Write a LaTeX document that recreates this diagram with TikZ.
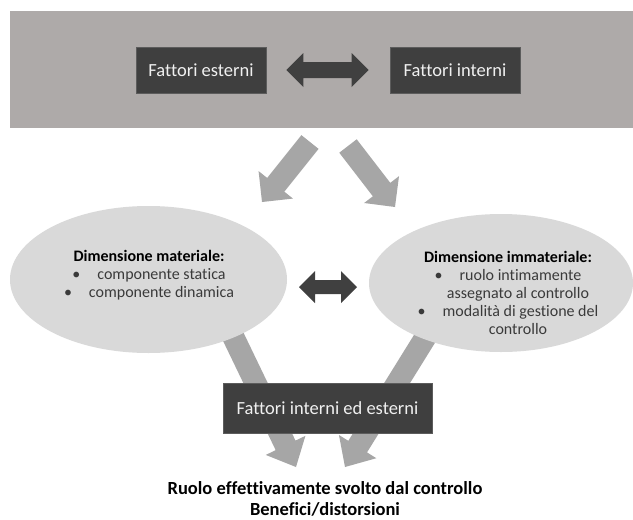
\documentclass[tikz,border=0pt]{standalone}
\usepackage{fontspec}
\setmainfont{Carlito}[Ligatures={NoCommon}]
\usetikzlibrary{calc,shapes.geometric}
\definecolor{bandgray}{HTML}{AEAAA9}
\definecolor{darkbox}{HTML}{3F3F3F}
\definecolor{arrowgray}{HTML}{A6A6A6}
\definecolor{ellgray}{HTML}{D9D9D9}
\definecolor{darkarrow}{HTML}{404040}
\definecolor{bodytext}{HTML}{3A3A3A}
\definecolor{boxtext}{HTML}{F0F0F0}

\newcommand{\blockarrow}[6]{%
  \coordinate (hb) at ($(#3)!#6!(#2)$);
  \fill[#1] ($(#2)!#4!90:(#3)$) -- ($(hb)!#4!90:(#3)$) -- ($(hb)!#5!90:(#3)$) -- (#3)
    -- ($(hb)!#5!-90:(#3)$) -- ($(hb)!#4!-90:(#3)$) -- ($(#2)!#4!-90:(#3)$) -- cycle;}

\newcommand{\dblarrow}[6]{%
  \coordinate (hl) at ($(#2)!#6!(#3)$);
  \coordinate (hr) at ($(#3)!#6!(#2)$);
  \fill[#1] (#2) -- ($(hl)!#5!90:(#3)$) -- ($(hl)!#4!90:(#3)$) -- ($(hr)!#4!-90:(#2)$)
    -- ($(hr)!#5!-90:(#2)$) -- (#3) -- ($(hr)!#5!90:(#2)$) -- ($(hr)!#4!90:(#2)$)
    -- ($(hl)!#4!-90:(#3)$) -- ($(hl)!#5!-90:(#3)$) -- cycle;}

\newcommand{\bul}{\textbullet\hspace{17pt}}

\tikzset{
  darkrect/.style={fill=darkbox, draw=darkbox!85!white, line width=0.6pt, text=boxtext,
    inner sep=0pt, font=\fontsize{18.5}{22}\selectfont},
  ellshape/.style={ellipse, fill=ellgray, inner sep=0pt},
  elltext/.style={align=center, text=bodytext, font=\fontsize{16}{18}\selectfont, inner sep=0pt},
  bottomtext/.style={align=center, text=black, font=\bfseries\fontsize{18.5}{20.5}\selectfont, inner sep=0pt}
}

\begin{document}
\begin{tikzpicture}[x=1pt, y=-1pt]
\useasboundingbox (0,0) rectangle (633,520);
\fill[white] (0,0) rectangle (633,520);

% top band
\fill[bandgray] (10,11) rectangle (633,128);
\node[darkrect, minimum width=130pt, minimum height=46pt] (fe) at (201,70) {Fattori esterni};
\node[darkrect, minimum width=130pt, minimum height=46pt] (fi) at (455,70) {Fattori interni};
\coordinate (tl) at ($(fe.east)+(20,0)$);
\coordinate (tr) at ($(fi.west)+(-21,0)$);
\dblarrow{darkarrow}{tl}{tr}{8pt}{17pt}{17pt}

% arrows from band to ellipses
\coordinate (a1t) at (310,142);
\coordinate (a1h) at (262,202);
\coordinate (a2t) at (348,146);
\coordinate (a2h) at (395,207);
\blockarrow{arrowgray}{a1t}{a1h}{11pt}{22pt}{22pt}
\blockarrow{arrowgray}{a2t}{a2h}{11pt}{22pt}{22pt}

% arrows from ellipses to result (behind ellipses and box)
\coordinate (b1t) at (230,330);
\coordinate (b1h) at (296,467);
\coordinate (b2t) at (430,330);
\coordinate (b2h) at (345,467);
\blockarrow{arrowgray}{b1t}{b1h}{11pt}{22pt}{24pt}
\blockarrow{arrowgray}{b2t}{b2h}{11pt}{22pt}{24pt}

% ellipses
\node[ellshape, minimum width=277pt, minimum height=147pt] (em) at (148.5,279.5) {};
\node[ellshape, minimum width=264pt, minimum height=138pt] (ei) at (501,283) {};

\node[elltext] (emt) at (149,275) {{\bfseries\color{black}Dimensione materiale:}\\
\bul componente statica\\
\bul componente dinamica};

\node[elltext] (eit) at (508,293) {{\bfseries\color{black}Dimensione immateriale:}\\
\bul ruolo intimamente\\
\hspace*{20pt}assegnato al controllo\\
\bul modalità di gestione del\\
\hspace*{20pt}controllo};

% middle double arrow
\coordinate (ml) at (299,287);
\coordinate (mr) at (357,287);
\dblarrow{darkarrow}{ml}{mr}{7pt}{16pt}{16pt}

% bottom box
\node[darkrect, minimum width=209pt, minimum height=50pt] (fie) at (327.5,408) {Fattori interni ed esterni};

% result text
\node[bottomtext] (res) at (325,499) {Ruolo effettivamente svolto dal controllo\\Benefici/distorsioni};
\end{tikzpicture}
\end{document}
